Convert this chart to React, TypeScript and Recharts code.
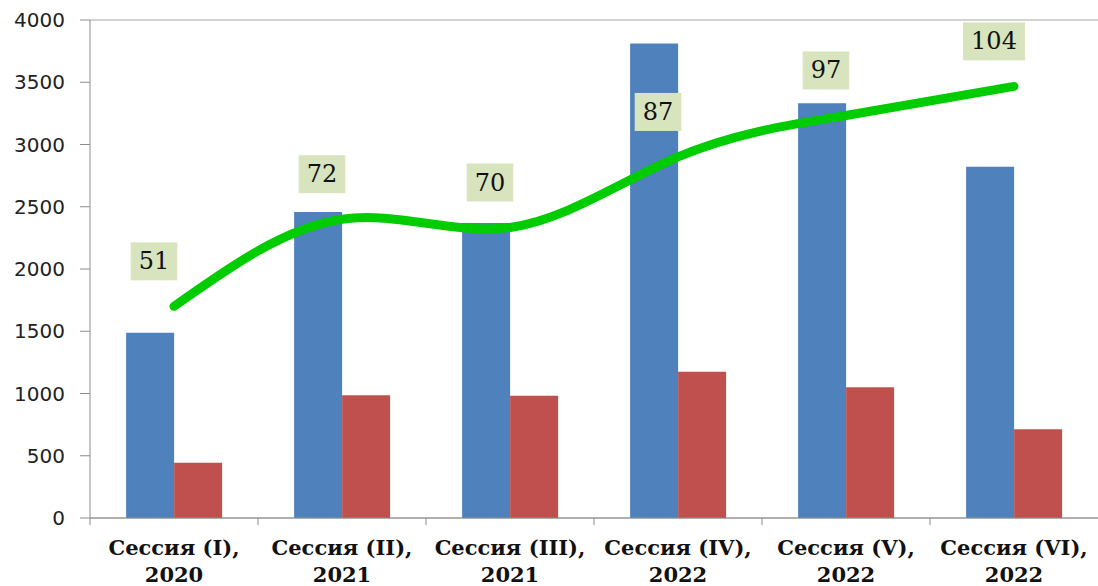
import React from 'react';
import { ComposedChart, Bar, Line, XAxis, YAxis, CartesianGrid, LabelList } from 'recharts';

const categories = [
  'Сессия (I), 2020',
  'Сессия (II), 2021',
  'Сессия (III), 2021',
  'Сессия (IV), 2022',
  'Сессия (V), 2022',
  'Сессия (VI), 2022',
];
const blueValues = [1488, 2458, 2370, 3812, 3331, 2822];
const redValues = [444, 985, 982, 1175, 1050, 712];
const lineValues = [51, 72, 70, 87, 97, 104];
const yTicks = [0, 500, 1000, 1500, 2000, 2500, 3000, 3500, 4000];

const data = categories.map((name, i) => ({
  name,
  blue: blueValues[i],
  red: redValues[i],
  line: lineValues[i],
}));

const CategoryTick = (props: any) => {
  const { x, y, payload } = props;
  const half = payload && payload.offset ? payload.offset : 84;
  const text: string = payload.value;
  const cut = text.lastIndexOf(' ');
  const first = text.slice(0, cut);
  const second = text.slice(cut + 1);
  return (
    <g>
      <line x1={x - half} x2={x - half} y1={y} y2={y + 7} stroke="#8c8c8c" />
      <text
        x={x}
        y={y}
        textAnchor="middle"
        fontFamily="'DejaVu Serif', serif"
        fontWeight="bold"
        fontSize={21}
        fill="#111"
      >
        <tspan x={x} dy={37}>{first}</tspan>
        <tspan x={x} dy={27}>{second}</tspan>
      </text>
    </g>
  );
};

const BoxLabel = (props: any) => {
  const { x, y, value } = props;
  const str = String(value);
  const w = str.length * 15.3 + 16;
  const h = 38;
  const cx = x - 20;
  const cy = y - 45;
  return (
    <g>
      <rect x={cx - w / 2} y={cy - h / 2} width={w} height={h} fill="#d7e4bd" />
      <text
        x={cx}
        y={cy}
        dy={8}
        textAnchor="middle"
        fontFamily="'DejaVu Serif', serif"
        fontSize={24}
        fill="#111"
      >
        {str}
      </text>
    </g>
  );
};

export default function App() {
  return (
    <div style={{ position: 'absolute', left: 0, top: 0, background: '#fff' }}>
      <ComposedChart
        width={1098}
        height={586}
        data={data}
        margin={{ top: 20, right: 0, bottom: 0, left: 0 }}
        barCategoryGap="21.5%"
        barGap={0}
      >
        <CartesianGrid vertical={false} stroke="#a6a6a6" />
        <XAxis
          dataKey="name"
          height={68}
          tickLine={false}
          tickSize={0}
          tickMargin={0}
          axisLine={{ stroke: '#8c8c8c' }}
          tick={<CategoryTick />}
          interval={0}
        />
        <YAxis
          yAxisId="left"
          width={90}
          domain={[0, 4000]}
          ticks={yTicks}
          tickSize={10}
          tickMargin={15}
          axisLine={{ stroke: '#8c8c8c' }}
          tickLine={{ stroke: '#8c8c8c' }}
          tick={{ fontFamily: "'DejaVu Sans', sans-serif", fontSize: 20, fill: '#222' }}
        />
        <YAxis yAxisId="right" orientation="right" hide domain={[0, 120]} />
        <Bar yAxisId="left" dataKey="blue" fill="#4f81bd" isAnimationActive={false} />
        <Bar yAxisId="left" dataKey="red" fill="#c0504d" isAnimationActive={false} />
        <Line
          yAxisId="right"
          dataKey="line"
          type="natural"
          stroke="#00cc00"
          strokeWidth={9}
          strokeLinecap="round"
          dot={false}
          activeDot={false}
          isAnimationActive={false}
        >
          <LabelList dataKey="line" content={<BoxLabel />} />
        </Line>
      </ComposedChart>
    </div>
  );
}
